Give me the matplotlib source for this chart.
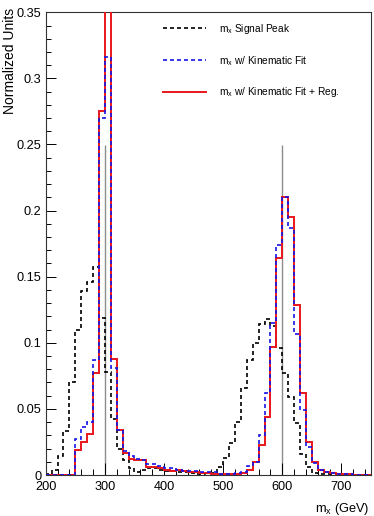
import numpy as np
import matplotlib
matplotlib.use("Agg")
import matplotlib.pyplot as plt
from matplotlib.ticker import MultipleLocator, FuncFormatter
from matplotlib.lines import Line2D

plt.rcParams['font.family'] = ['Liberation Sans', 'DejaVu Sans']
plt.rcParams['mathtext.fontset'] = 'custom'
plt.rcParams['mathtext.rm'] = 'Liberation Sans'
plt.rcParams['mathtext.it'] = 'Liberation Sans'

# ---- data (bin lower edges 200..740, width 10 GeV) ----
bin_edges = np.arange(200, 760, 10)

signal_peak = [0.001, 0.004, 0.014, 0.033, 0.070, 0.110, 0.139, 0.146, 0.157, 0.119,
               0.078, 0.042, 0.020, 0.011, 0.005, 0.0025, 0.004, 0.005, 0.005, 0.004,
               0.003, 0.003, 0.002, 0.002, 0.0015, 0.001, 0.001, 0.0015, 0.0013, 0.006,
               0.0126, 0.024, 0.040, 0.066, 0.087, 0.100, 0.114, 0.118, 0.113, 0.096,
               0.077, 0.059, 0.039, 0.016, 0.006, 0.0015, 0.001, 0.0005, 0.0005, 0.0,
               0.0, 0.0, 0.0, 0.0, 0.0]
kin_fit = [0.0, 0.0, 0.0, 0.0, 0.0, 0.027, 0.036, 0.040, 0.087, 0.270,
           0.316, 0.081, 0.034, 0.018, 0.014, 0.012, 0.011, 0.008, 0.008, 0.007,
           0.005, 0.005, 0.004, 0.003, 0.003, 0.003, 0.002, 0.002, 0.002, 0.001,
           0.001, 0.001, 0.0015, 0.002, 0.0068, 0.010, 0.030, 0.062, 0.115, 0.174,
           0.210, 0.1865, 0.107, 0.049, 0.021, 0.009, 0.004, 0.0025, 0.0015, 0.001,
           0.001, 0.0005, 0.0, 0.0, 0.0]
kin_fit_reg = [0.0, 0.0, 0.0, 0.0, 0.0, 0.019, 0.025, 0.031, 0.077, 0.275,
               0.352, 0.088, 0.034, 0.017, 0.012, 0.011, 0.011, 0.006, 0.006, 0.005,
               0.004, 0.003, 0.004, 0.003, 0.002, 0.002, 0.0015, 0.0015, 0.001, 0.001,
               0.001, 0.001, 0.001, 0.0015, 0.004, 0.010, 0.023, 0.044, 0.097, 0.164,
               0.210, 0.195, 0.1285, 0.062, 0.025, 0.010, 0.004, 0.0025, 0.0015, 0.001,
               0.0005, 0.0005, 0.0, 0.0, 0.0]
ref_masses = [300, 600]
ref_height = 0.25

labels = [r'm$_{\mathregular{x}}$ Signal Peak',
          r'm$_{\mathregular{x}}$ w/ Kinematic Fit',
          r'm$_{\mathregular{x}}$ w/ Kinematic Fit + Reg.']

W, H = 374, 516
fig = plt.figure(figsize=(W / 100, H / 100), dpi=100)
ax = fig.add_axes([45.7 / W, 1 - 475 / H, (371 - 45.7) / W, (475 - 12.3) / H])

for xm in ref_masses:
    ax.vlines(xm, 0, ref_height, color='#8c8c8c', lw=1.0, zorder=1)

ax.stairs(kin_fit_reg, bin_edges, color='#e8161b', lw=1.4, zorder=3,
          baseline=0, fill=False)
ax.stairs(kin_fit, bin_edges, color='#1515e6', lw=1.2, zorder=4,
          linestyle=(0, (2.4, 1.8)), baseline=0, fill=False)
ax.stairs(signal_peak, bin_edges, color='black', lw=1.2, zorder=2,
          linestyle=(0, (2.4, 1.8)), baseline=0, fill=False)

ax.set_xlim(200, 750)
ax.set_ylim(0, 0.35)

ax.xaxis.set_major_locator(MultipleLocator(100))
ax.xaxis.set_minor_locator(MultipleLocator(20))
ax.yaxis.set_major_locator(MultipleLocator(0.05))
ax.yaxis.set_minor_locator(MultipleLocator(0.01))
ax.yaxis.set_major_formatter(FuncFormatter(lambda v, p: '%g' % round(v, 3)))

ax.tick_params(axis='x', which='major', direction='in', length=9, width=0.7,
               labelsize=9.2, pad=4.3, top=False)
ax.tick_params(axis='x', which='minor', direction='in', length=4.5, width=0.7, top=False)
ax.tick_params(axis='y', which='major', direction='in', length=7, width=0.7,
               labelsize=9.2, pad=3, right=False)
ax.tick_params(axis='y', which='minor', direction='in', length=3.5, width=0.7, right=False)
for s in ax.spines.values():
    s.set_linewidth(0.8)
    s.set_color('#333333')

handles = [Line2D([], [], color='black', lw=1.2, linestyle=(0, (2.4, 1.8))),
           Line2D([], [], color='#1515e6', lw=1.2, linestyle=(0, (2.4, 1.8))),
           Line2D([], [], color='#e8161b', lw=1.4)]
ax.legend(handles, labels, loc='upper left', bbox_to_anchor=(163 / W, 1 - 22 / H),
          bbox_transform=fig.transFigure, frameon=False, fontsize=7.3,
          handlelength=4.2, handletextpad=1.3, labelspacing=1.75,
          borderpad=0, borderaxespad=0)

fig.text(10.5 / W, 1 - 8 / H, 'Normalized Units', rotation=90, ha='center', va='top',
         fontsize=10.0)
fig.text(369 / W, 1 - 509 / H, r'm$_{\mathregular{x}}$ (GeV)', ha='right', va='center',
         fontsize=9.2)

fig.savefig('out.png', dpi=100)
